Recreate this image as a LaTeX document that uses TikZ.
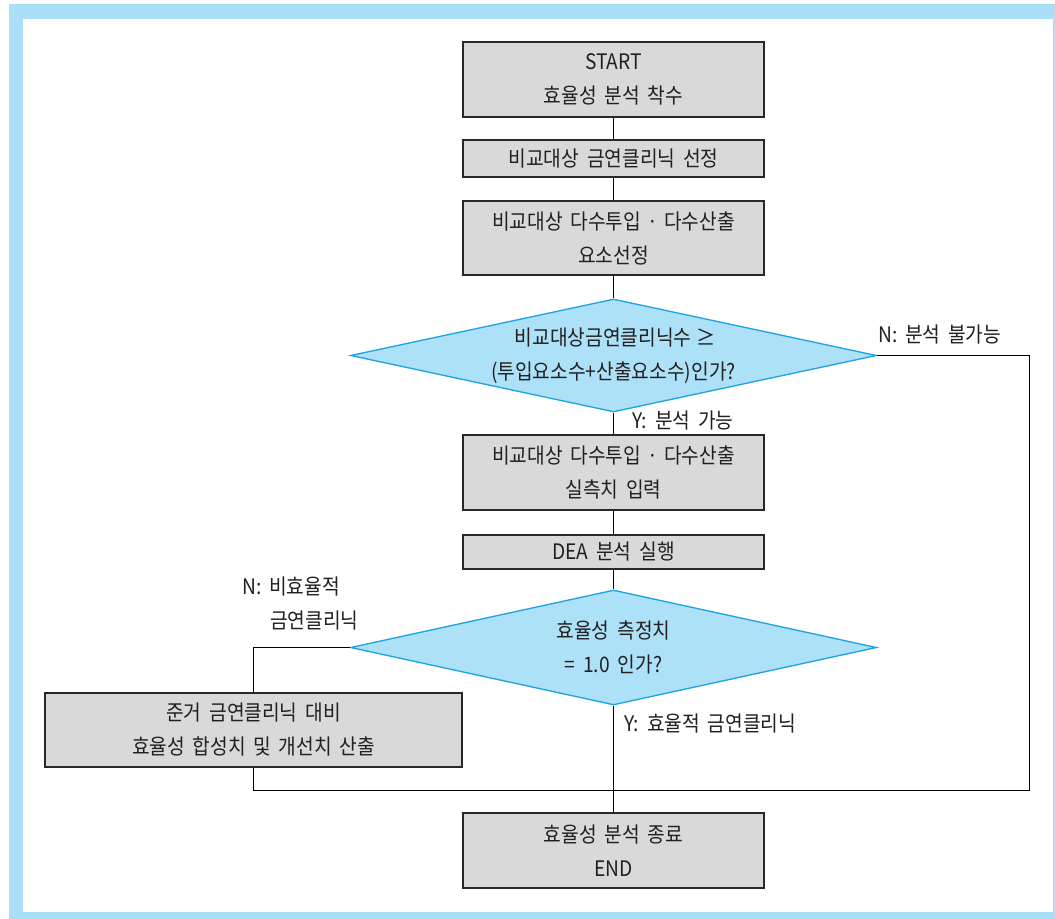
\documentclass[tikz,border=0pt]{standalone}
\usepackage{fontspec}
\setmainfont[FakeStretch=0.9,WordSpace=1.8]{Noto Sans CJK KR}
\usetikzlibrary{shapes.geometric}
\definecolor{frameblue}{RGB}{170,224,247}
\definecolor{boxgray}{RGB}{217,217,217}
\definecolor{diafill}{RGB}{173,225,248}
\definecolor{diaedge}{RGB}{30,164,226}
\definecolor{txt}{RGB}{35,31,32}
\definecolor{boxedge}{RGB}{40,40,40}
\newcommand{\mdot}{\makebox[0.35em]{·}}
\newcommand{\geqc}{\makebox[0.6em]{≥}}
\begin{document}
\begin{tikzpicture}[x=0.75pt,y=-0.75pt,
  every node/.style={font=\fontsize{16pt}{25.5pt}\selectfont, text=txt, align=center, inner sep=0pt},
  procbox/.style={draw=boxedge, fill=boxgray, line width=1.2pt, minimum width=225.75pt},
  decbox/.style={shape=diamond, draw=diaedge, fill=diafill, line width=1pt, aspect=4.65, minimum width=394.5pt, minimum height=84.75pt},
  conn/.style={draw=black, line width=0.75pt},
  lbl/.style={anchor=west, align=left}
]
\useasboundingbox (0,0) rectangle (1055,919);
\fill[white] (0,0) rectangle (1055,919);
\fill[frameblue] (9,4) rectangle (1055,919);
\fill[white] (23,19) rectangle (1053,912);

\node[procbox, minimum height=56.25pt] (start) at (613.5,79.5) {START\\효율성 분석 착수};
\node[procbox, minimum height=27.75pt] (sel) at (613.5,158.5) {비교대상 금연클리닉 선정};
\node[procbox, minimum height=55.5pt] (elem) at (613.5,238) {비교대상 다수투입 \mdot{} 다수산출\\요소선정};
\node[decbox] (d1) at (613.5,355.5) {비교대상금연클리닉수 \geqc\\(투입요소수+산출요소수)인가?};
\node[procbox, minimum height=56.25pt] (input) at (613.5,472.5) {비교대상 다수투입 \mdot{} 다수산출\\실측치 입력};
\node[procbox, minimum height=25.5pt] (dea) at (613.5,552) {DEA 분석 실행};
\node[decbox, minimum height=86.25pt] (d2) at (613.5,647.5) {효율성 측정치\\= 1.0 인가?};
\node[procbox, minimum width=312.75pt, minimum height=55.5pt] (calc) at (253.5,730) {준거 금연클리닉 대비\\효율성 합성치 및 개선치 산출};
\node[procbox, minimum height=56.25pt] (end) at (613.5,850.5) {효율성 분석 종료\\END};

\coordinate (rb) at (1029,790);

\draw[conn] (start) -- (sel);
\draw[conn] (sel) -- (elem);
\draw[conn] (elem) -- (d1);
\draw[conn] (d1) -- (input);
\draw[conn] (input) -- (dea);
\draw[conn] (dea) -- (d2);
\draw[conn] (d2) -- (end);
\draw[conn] (d2.west) -| (calc.north);
\draw[conn] (calc.south) |- (rb) |- (d1.east);

\node[lbl] (ln1) at (878,335) {N: 분석 불가능};
\node[lbl] (ly1) at (632,421) {Y: 분석 가능};
\node[lbl] (ln2) at (242,604) {N: 비효율적\\\hspace*{21pt}금연클리닉};
\node[lbl] (ly2) at (624,724) {Y: 효율적 금연클리닉};
\end{tikzpicture}
\end{document}
